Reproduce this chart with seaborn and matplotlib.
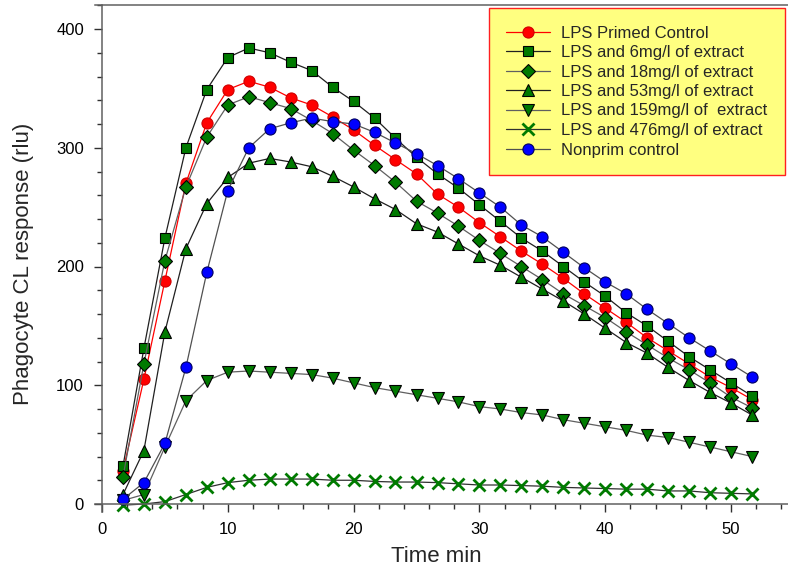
import matplotlib.pyplot as plt
import matplotlib.ticker as mticker
import seaborn as sns

# sampling times (min)
time_min = [1.67, 3.33, 5.0, 6.67, 8.33, 10.0, 11.67, 13.33, 15.0, 16.67, 18.33,
            20.0, 21.67, 23.33, 25.0, 26.67, 28.33, 30.0, 31.67, 33.33, 35.0,
            36.67, 38.33, 40.0, 41.67, 43.33, 45.0, 46.67, 48.33, 50.0, 51.67]

lps_primed = [28, 105, 188, 270, 321, 349, 356, 351, 342, 336, 326, 315, 302, 290, 278,
              261, 250, 237, 225, 213, 202, 190, 177, 165, 153, 140, 129, 118, 107, 98, 88]
lps_6 = [32, 131, 224, 300, 349, 376, 384, 380, 372, 365, 351, 339, 325, 308, 292,
         278, 266, 252, 238, 224, 213, 200, 187, 175, 161, 150, 137, 124, 113, 102, 91]
lps_18 = [23, 118, 205, 267, 309, 336, 343, 338, 333, 323, 312, 298, 285, 271, 255,
          245, 234, 222, 211, 200, 189, 177, 167, 157, 145, 134, 123, 113, 102, 90, 81]
lps_53 = [8, 45, 145, 215, 253, 275, 287, 291, 288, 284, 276, 267, 257, 248, 236,
          229, 219, 209, 201, 191, 181, 171, 160, 148, 136, 127, 115, 104, 94, 85, 75]
lps_159 = [3, 8, 48, 87, 104, 111, 112, 111, 110, 109, 106, 102, 98, 95, 92,
           89, 86, 82, 80, 77, 75, 71, 68, 65, 62, 58, 56, 52, 48, 44, 40]
lps_476 = [-1, 0, 2, 8, 14, 18, 20, 21, 21, 21, 20, 20, 19, 18.5, 18.5,
           18, 17, 16, 16, 15.5, 15, 14, 13.5, 13, 12.5, 12.5, 11, 11, 9.5, 9, 8.5]
nonprim = [4, 18, 51, 115, 195, 264, 300, 316, 321, 325, 322, 320, 313, 304, 295,
           285, 274, 262, 250, 235, 225, 212, 199, 187, 177, 164, 152, 140, 129, 118, 107]

labels = ["LPS Primed Control", "LPS and 6mg/l of extract", "LPS and 18mg/l of extract",
          "LPS and 53mg/l of extract", "LPS and 159mg/l of  extract",
          "LPS and 476mg/l of extract", "Nonprim control"]
values = [lps_primed, lps_6, lps_18, lps_53, lps_159, lps_476, nonprim]

green = '#007a00'
styles = [
    dict(marker='o', markersize=8, markerfacecolor='#ff0000', markeredgecolor='#d00000', markeredgewidth=0.8, color='#ff0000'),
    dict(marker='s', markersize=7.8, markerfacecolor=green, markeredgecolor='black', markeredgewidth=0.8, color='#202020'),
    dict(marker='D', markersize=7, markerfacecolor=green, markeredgecolor='black', markeredgewidth=0.8, color='#606060'),
    dict(marker='^', markersize=8.5, markerfacecolor=green, markeredgecolor='black', markeredgewidth=0.8, color='#202020'),
    dict(marker='v', markersize=8.5, markerfacecolor=green, markeredgecolor='black', markeredgewidth=0.8, color='#606060'),
    dict(marker='x', markersize=8, markerfacecolor=green, markeredgecolor=green, markeredgewidth=2.0, color='#303030'),
    dict(marker='o', markersize=8, markerfacecolor='#0000ff', markeredgecolor='#000060', markeredgewidth=0.8, color='#505050'),
]

sns.set_theme(style='ticks')
plt.rcParams['font.family'] = ['Liberation Sans', 'DejaVu Sans']

W, H = 788, 570
fig = plt.figure(figsize=(W / 100, H / 100), dpi=100)
# pixel box of the plot frame
px_left, px_right, px_top, px_bottom = 95, 788, 5, 512
ax = fig.add_axes([px_left / W, (H - px_bottom) / H,
                   (px_right - px_left) / W, (px_bottom - px_top) / H])

for name, vals, st in zip(labels, values, styles):
    sns.lineplot(x=time_min, y=vals, ax=ax, linewidth=0.9, label=name, legend=False, **st)

# x = 0 at px 102, 50 at px 731 ; y = 0 at px 504, 400 at px 29
xs = (731 - 102) / 50
ys = (504 - 29) / 400
ax.set_xlim(-(102 - px_left) / xs, (px_right - 102) / xs)
ax.set_ylim(-(px_bottom - 504) / ys, (504 - px_top) / ys)

ax.spines['left'].set_position(('data', 0))
ax.spines['bottom'].set_position(('data', 0))
ax.spines['right'].set_visible(False)
for s in ['left', 'bottom', 'top']:
    ax.spines[s].set_color('#606060')
    ax.spines[s].set_linewidth(1.1)

ax.xaxis.set_major_locator(mticker.MultipleLocator(10))
ax.xaxis.set_minor_locator(mticker.MultipleLocator(2))
ax.yaxis.set_major_locator(mticker.MultipleLocator(100))
ax.yaxis.set_minor_locator(mticker.MultipleLocator(20))
ax.tick_params(which='both', direction='out', top=False, right=False,
               bottom=True, left=True, color='#303030', width=1)
ax.tick_params(which='major', length=6, labelsize=12, pad=7, labelcolor='black')
ax.tick_params(which='minor', length=3.8)

ax.set_xlabel('Time min', fontsize=16)
ax.set_ylabel('Phagocyte CL response (rlu)', fontsize=16)
ax.xaxis.set_label_coords((436 - px_left) / (px_right - px_left), (px_bottom - 546) / (px_bottom - px_top))
ax.yaxis.set_label_coords((34 - px_left) / (px_right - px_left), (px_bottom - 264) / (px_bottom - px_top))

leg = ax.legend(loc='upper right', bbox_to_anchor=(785 / W, 1 - 8 / H),
                bbox_transform=fig.transFigure, fontsize=12, frameon=True,
                fancybox=False, facecolor='#ffff80', edgecolor='#ff2020',
                framealpha=1, handlelength=2.6, handletextpad=0.7,
                labelspacing=0.27, borderpad=1.05, borderaxespad=0, numpoints=1)
leg.get_frame().set_linewidth(1.0)

fig.savefig('out.png', dpi=100)
